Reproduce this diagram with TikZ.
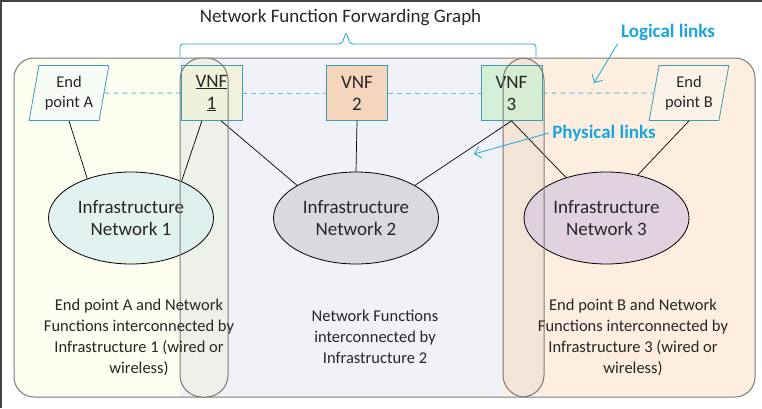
\documentclass[tikz,border=0pt]{standalone}
\usepackage{fontspec}
\setmainfont{Carlito}
\usepackage{tikz}
\usetikzlibrary{shapes,arrows.meta,backgrounds}

\definecolor{inkgray}{HTML}{262626}
\definecolor{linkblue}{HTML}{1BA5DF}
\definecolor{dashblue}{HTML}{5BC0E0}
\definecolor{boxedge}{HTML}{3D9BB3}
\definecolor{outeredge}{HTML}{7A7A7A}
\definecolor{framegray}{HTML}{444444}
\definecolor{yellowbg}{HTML}{FEFEF0}
\definecolor{lavbg}{HTML}{F1F2F8}
\definecolor{peachbg}{HTML}{FDEEDF}
\definecolor{v1fill}{HTML}{F1F2D6}
\definecolor{v2fill}{HTML}{F6CFAE}
\definecolor{v3fill}{HTML}{CFF0D2}
\definecolor{n1fill}{HTML}{DAF0F0}
\definecolor{n2fill}{HTML}{D4D5DB}
\definecolor{n3fill}{HTML}{DCCBE0}
\definecolor{endAfill}{HTML}{F8FCF6}
\definecolor{endBfill}{HTML}{FDF2E7}
\definecolor{overAfill}{HTML}{EEF0EA}
\definecolor{overBfill}{HTML}{F3E4D8}

\begin{document}
\begin{tikzpicture}[x=1pt,y=-1pt,text=inkgray,
    every node/.style={font=\fontsize{19}{22}\selectfont},
    small/.style={font=\fontsize{16.5}{21}\selectfont},
    vnf/.style={draw=boxedge, line width=0.8pt, minimum width=61pt,
      minimum height=55pt, inner sep=1pt, align=center, fill opacity=0.8,
      text opacity=1},
    endpt/.style={draw=boxedge, line width=0.8pt, trapezium,
      trapezium left angle=77, trapezium right angle=103,
      trapezium stretches=true, minimum width=80pt, minimum height=55pt,
      inner sep=1pt, align=center, font=\fontsize{16.5}{19.5}\selectfont},
    infra/.style={draw=black, line width=0.8pt, ellipse, minimum width=165pt,
      minimum height=92pt, inner sep=0pt, align=center, fill opacity=0.8,
      text opacity=1},
    wire/.style={draw=black, line width=0.7pt},
    logic/.style={draw=dashblue, line width=1pt, dash pattern=on 5pt off 4pt},
    overlap/.style={draw=outeredge, line width=1pt, rounded corners=22pt},
    linktext/.style={text=linkblue, font=\fontsize{19}{22}\selectfont\bfseries},
    pointer/.style={draw=linkblue, line width=0.8pt, -{Straight Barb[length=6pt]}}]
\useasboundingbox (0,0) rectangle (762,408);

% three infrastructure areas
\begin{scope}
  \clip[rounded corners=20pt] (14,58) rectangle (755,397);
  \fill[yellowbg] (14,58) rectangle (180,397);
  \fill[lavbg] (180,58) rectangle (503,397);
  \fill[peachbg] (503,58) rectangle (755,397);
\end{scope}
\draw[outeredge, line width=1pt, rounded corners=20pt] (14,58) rectangle (755,397);

% shared areas, filled below the nodes
\fill[overAfill, rounded corners=22pt] (180,58) rectangle (228,397);
\fill[overBfill, rounded corners=22pt] (503,58) rectangle (544,397);

% network functions and end points
\node (vnf2) [vnf, fill=v2fill] at (357,93) {VNF\\2};
\path (vnf2)+(-145.5,0) node (vnf1) [vnf, fill=v1fill] {\underline{VNF}\\\underline{1}};
\path (vnf2)+(154.5,0) node (vnf3) [vnf, fill=v3fill] {VNF\\3};
\path (vnf1)+(-142.5,0) node (endA) [endpt, fill=endAfill] {End\\point A};
\path (vnf3)+(177.5,0) node (endB) [endpt, fill=endBfill] {End\\point B};

% infrastructure networks
\path (vnf1)+(-80.5,125) node (infra1) [infra, fill=n1fill] {Infrastructure\\Network 1};
\path (vnf2)+(-1,125) node (infra2) [infra, fill=n2fill] {Infrastructure\\Network 2};
\path (vnf3)+(95,125) node (infra3) [infra, fill=n3fill] {Infrastructure\\Network 3};

% physical links
\draw[wire] (endA.south) -- (infra1.138);
\draw[wire] (vnf1.-109) -- (infra1.36);
\draw[wire] (vnf1.-71) -- (infra2.151);
\draw[wire] (vnf2.south) -- (infra2.north);
\draw[wire] (vnf3.south) -- (infra2.29);
\draw[wire] (vnf3.south) -- (infra3.135);
\draw[wire] (endB.south) -- (infra3.54);

% logical links
\draw[logic] (endA.east) -- (vnf1.west);
\draw[logic] (vnf1.east) -- (vnf2.west);
\draw[logic] (vnf2.east) -- (vnf3.west);
\draw[logic] (vnf3.east) -- (endB.west);

% shared areas, outlines on top
\draw[overlap] (180,58) rectangle (228,397);
\draw[overlap] (503,58) rectangle (544,397);

% captions
\node (text1) [small, align=center] at (139,337.5) {End point A and Network\\Functions interconnected by\\Infrastructure 1 (wired or\\wireless)};
\node (text2) [small, align=center] at (375,337) {Network Functions\\interconnected by\\Infrastructure 2};
\node (text3) [small, align=center] at (633,337.5) {End point B and Network\\Functions interconnected by\\Infrastructure 3 (wired or\\wireless)};

% forwarding graph
\node (nffg) at (340.5,18) {Network Function Forwarding Graph};
\draw[linkblue, line width=0.8pt, rounded corners=3pt]
  (180,57) -- (180,44) -- (342,44) -- (346,32) -- (350,44) -- (536,44) -- (536,57);

\node (logical) [linktext] at (668,32) {Logical links};
\coordinate (logicalhit) at (594,83);
\draw[pointer] (logical.south west) -- (logicalhit);

\node (physical) [linktext] at (604,133) {Physical links};
\coordinate (physicalhit) at (474,154);
\draw[pointer] (physical.west) -- (physicalhit);

% frame
\draw[framegray, line width=1.5pt] (0.75,408) -- (0.75,0.75) -- (762,0.75);
\end{tikzpicture}
\end{document}
